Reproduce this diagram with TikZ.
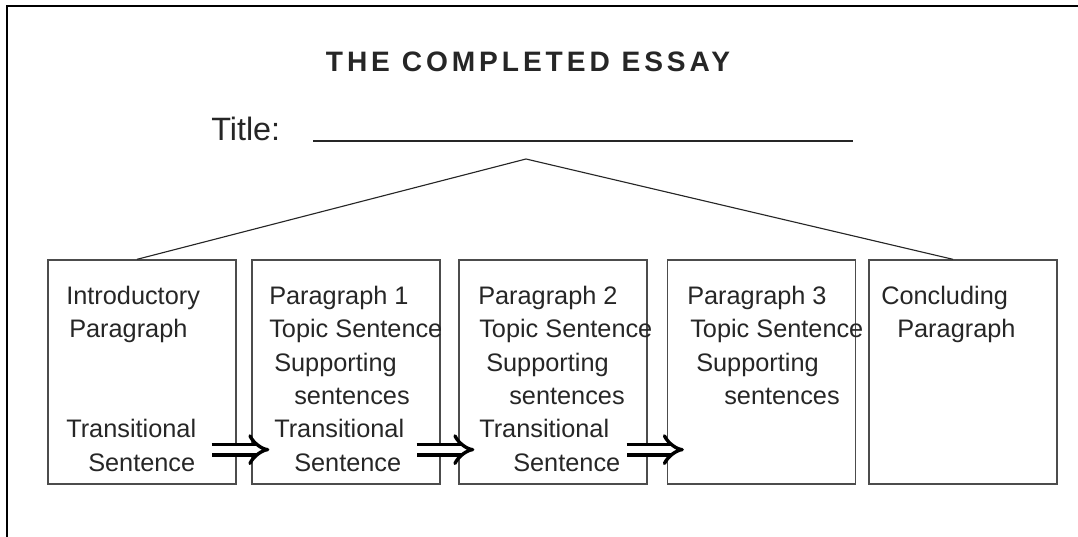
\documentclass[tikz,border=0pt]{standalone}
\usepackage{fontspec}
\setmainfont{Liberation Sans}
\usetikzlibrary{positioning, arrows.meta}

\tikzset{
	parabox/.style={draw=black!70, line width=0.9pt, rectangle, minimum width=4.7cm, minimum height=5.6cm, inner sep=0pt},
	txt/.style={anchor=base west, inner sep=0pt, text=black!85, font=\fontsize{18}{22}\selectfont},
	dblarrow/.style={double, double distance=5pt, line width=2.4pt, -{Implies[scale=1.25]}},
}

\begin{document}
\begin{tikzpicture}[x=0.025cm, y=0.025cm]
			
			\useasboundingbox (0,0) rectangle (1078,537);
			
			%Frame
			\draw[line width=1.4pt] (1078,531) -- (7,531) -- (7,0);
			
			%Heading
			\node (essay) at (528,465) [anchor=base, inner sep=0pt, text=black!85, 
			font=\fontsize{20}{24}\selectfont\bfseries\addfontfeatures{LetterSpace=14}]{THE COMPLETED ESSAY};
			\node (title) at (211,396) [anchor=base west, inner sep=0pt, text=black!85, 
			font=\fontsize{23}{27}\selectfont]{Title:};
			\coordinate (blankL) at (313,396);
			\coordinate (blankR) at (853,396);
			\coordinate (apex) at (526,378);
			
			%Boxes
			\node (intro) at (142,165) [parabox]{};
			\node (par1) at (346,165) [parabox]{};
			\node (par2) at (553,165) [parabox]{};
			\node (par3) at (761.5,165) [parabox]{};
			\node (concl) at (963,165) [parabox]{};
			
			%Box texts
			\node (introTop) at (66,232) [txt]{Introductory};
			\node (introSub) at (69,199) [txt]{Paragraph};
			\node (introTran) at (66,99) [txt]{Transitional};
			\node (introSent) at (88,65) [txt]{Sentence};
			
			\node (p1Head) at (269,232) [txt]{Paragraph 1};
			\node (p1Topic) at (269,199) [txt]{Topic Sentence};
			\node (p1Supp) at (274,165) [txt]{Supporting};
			\node (p1Sents) at (294,132) [txt]{sentences};
			\node (p1Tran) at (274,99) [txt]{Transitional};
			\node (p1Sent) at (294,65) [txt]{Sentence};
			
			\node (p2Head) at (478,232) [txt]{Paragraph 2};
			\node (p2Topic) at (479,199) [txt]{Topic Sentence};
			\node (p2Supp) at (486,165) [txt]{Supporting};
			\node (p2Sents) at (509,132) [txt]{sentences};
			\node (p2Tran) at (479,99) [txt]{Transitional};
			\node (p2Sent) at (513,65) [txt]{Sentence};
			
			\node (p3Head) at (687,232) [txt]{Paragraph 3};
			\node (p3Topic) at (690,199) [txt]{Topic Sentence};
			\node (p3Supp) at (696,165) [txt]{Supporting};
			\node (p3Sents) at (724,132) [txt]{sentences};
			
			\node (conclTop) at (881,232) [txt]{Concluding};
			\node (conclSub) at (897,199) [txt]{Paragraph};
			
			%Links
			\draw[line width=1pt, black!85] (blankL) -- (blankR);
			\draw[line width=0.8pt, black!85] ([shift={(-5,0)}]intro.north) -- (apex) -- ([shift={(-10,0)}]concl.north);
			\draw[dblarrow] ([shift={(-25,35)}]intro.south east) -- ([shift={(18,35)}]par1.south west);
			\draw[dblarrow] ([shift={(-24,35)}]par1.south east) -- ([shift={(16,35)}]par2.south west);
			\draw[dblarrow] ([shift={(-21,35)}]par2.south east) -- ([shift={(17,35)}]par3.south west);
			
\end{tikzpicture}
\end{document}
